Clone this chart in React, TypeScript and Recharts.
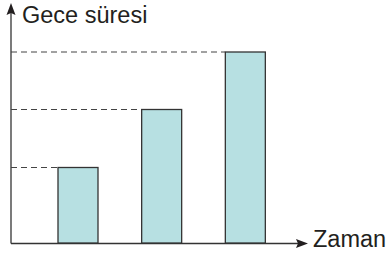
import { BarChart, Bar, XAxis, YAxis, Customized } from "recharts";

// the three periods on the time axis
const periods: string[] = ["1", "2", "3"];
// night length for each period (arbitrary units)
const nightLength: number[] = [7.55, 13.35, 19.1];
const yMax = 23.1;

const yLabel = "Gece süresi";
const xLabel = "Zaman";

const data = periods.map((p, i) => ({ period: p, night: nightLength[i] }));

const MARGIN = { top: 12, right: 80, left: 11, bottom: 12 };
const W = 388;
const H = 255;
const INK = "#231f20";
const AXIS = "#333";

// bar plus the dashed guide running back to the y axis
const BarWithGuide = (props: any) => {
  const { x, y, width, height } = props;
  return (
    <g>
      <line
        x1={MARGIN.left}
        y1={y}
        x2={x}
        y2={y}
        stroke="#444"
        strokeWidth={1}
        strokeDasharray="6 4"
      />
      <rect
        x={x}
        y={y}
        width={width}
        height={height}
        fill="#b7e0e2"
        stroke={AXIS}
        strokeWidth={1.3}
      />
    </g>
  );
};

// axis lines with arrowheads and the two axis titles
const Decorations = () => {
  const ax = MARGIN.left;
  const by = H - MARGIN.bottom + 0.5;
  const tipX = W - MARGIN.right;
  return (
    <g>
      <line x1={ax} y1={by} x2={ax} y2={10} stroke={AXIS} strokeWidth={1.3} />
      <line x1={ax} y1={by} x2={tipX - 6} y2={by} stroke={AXIS} strokeWidth={1.3} />
      <polygon
        points={`${ax},3 ${ax + 4.5},15 ${ax},13 ${ax - 4.5},15`}
        fill={INK}
      />
      <polygon
        points={`${tipX},${by} ${tipX - 12},${by - 4.5} ${tipX - 10},${by} ${tipX - 12},${by + 4.5}`}
        fill={INK}
      />
      <text
        x={22}
        y={23}
        fontSize={23.5}
        fill={INK}
        fontFamily="'Liberation Sans', Arial, sans-serif"
      >
        {yLabel}
      </text>
      <text
        x={313}
        y={247}
        fontSize={23.5}
        fill={INK}
        fontFamily="'Liberation Sans', Arial, sans-serif"
      >
        {xLabel}
      </text>
    </g>
  );
};

export default function App() {
  return (
    <div style={{ position: "absolute", left: 0, top: 0, background: "#fff" }}>
      <BarChart width={W} height={H} data={data} margin={MARGIN}>
        <XAxis
          dataKey="period"
          height={0}
          tick={false}
          tickLine={false}
          axisLine={false}
          padding={{ left: 25, right: 21 }}
        />
        <YAxis
          width={0}
          domain={[0, yMax]}
          tick={false}
          tickLine={false}
          axisLine={false}
        />
        <Bar
          dataKey="night"
          barSize={40}
          shape={<BarWithGuide />}
          isAnimationActive={false}
        />
        <Customized component={<Decorations />} />
      </BarChart>
    </div>
  );
}
